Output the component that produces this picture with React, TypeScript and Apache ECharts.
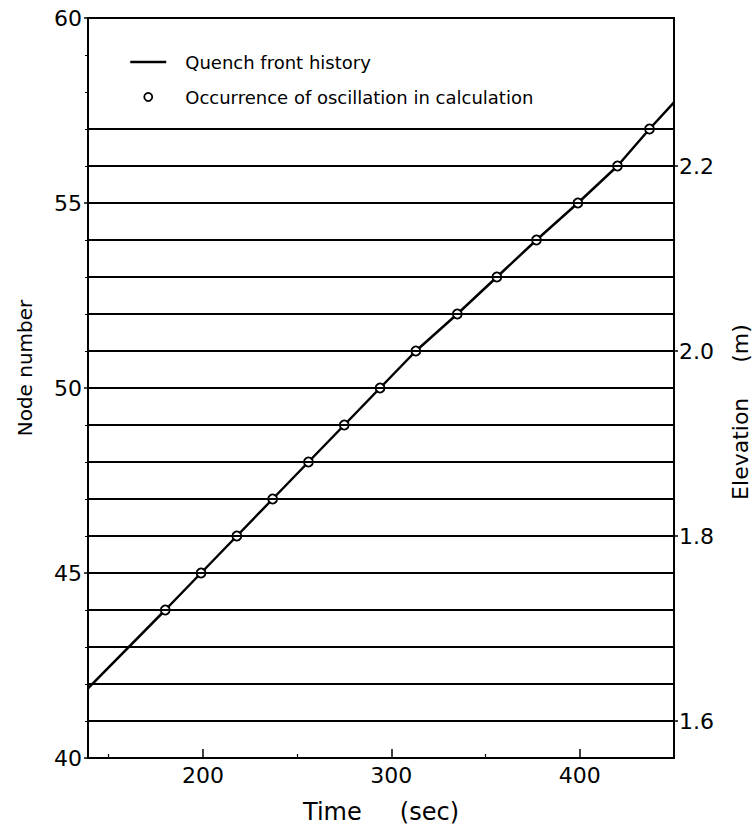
import React, { useEffect, useRef } from "react";
import * as echarts from "echarts";

// Node levels drawn as horizontal reference lines
const gridNodes = [41, 42, 43, 44, 45, 46, 47, 48, 49, 50, 51, 52, 53, 54, 55, 56, 57];

// Axis ticks and labels
const timeLabels = [200, 300, 400];
const timeMinorTicks = [150, 250, 350];
const elevationTicks = [1.6, 1.8, 2.0, 2.2];

// Quench front history (time in s, node number)
const frontTime = [139, 180, 199, 218, 237, 256, 275, 294, 313, 335, 356, 377, 399, 420, 437, 450];
const frontNode = [41.88, 44, 45, 46, 47, 48, 49, 50, 51, 52, 53, 54, 55, 56, 57, 57.72];

// Nodes where the calculation oscillated
const oscTime = [180, 199, 218, 237, 256, 275, 294, 313, 335, 356, 377, 399, 420, 437];
const oscNode = [44, 45, 46, 47, 48, 49, 50, 51, 52, 53, 54, 55, 56, 57];

const FONT = "DejaVu Sans";
const INK = "#000";

export default function App() {
  const ref = useRef<HTMLDivElement>(null);

  useEffect(() => {
    if (!ref.current) return;
    const chart = echarts.init(ref.current, undefined, { renderer: "svg" });

    const frontData = frontTime.map((t, i) => [t, frontNode[i]]);
    const oscData = oscTime.map((t, i) => [t, oscNode[i]]);

    chart.setOption({
      animation: false,
      backgroundColor: "#fff",
      textStyle: { fontFamily: FONT, color: INK },
      grid: {
        left: 88,
        right: 78,
        top: 18,
        bottom: 68,
        show: true,
        borderColor: INK,
        borderWidth: 2,
        outerBoundsMode: "none",
      },
      legend: {
        orient: "vertical",
        left: 124,
        top: 47,
        itemWidth: 36,
        itemHeight: 8,
        itemGap: 15,
        selectedMode: false,
        data: [
          {
            name: "Quench front history",
            itemStyle: { opacity: 0 },
            lineStyle: { color: INK, width: 2.5, opacity: 1 },
          },
          {
            name: "Occurrence of oscillation in calculation",
            icon: "circle",
            itemStyle: { color: "#fff", borderColor: INK, borderWidth: 1.8 },
          },
        ],
        textStyle: {
          fontFamily: FONT,
          fontSize: 18,
          color: INK,
          lineHeight: 20,
          padding: [0, 0, 0, 14],
        },
      },
      xAxis: [
        {
          type: "value",
          min: 139,
          max: 450,
          position: "bottom",
          axisLine: { show: true, lineStyle: { color: INK, width: 2 } },
          axisTick: {
            show: true,
            inside: true,
            length: 9,
            customValues: timeLabels,
            lineStyle: { color: INK, width: 1.5 },
          },
          axisLabel: {
            customValues: timeLabels,
            fontSize: 22,
            color: INK,
            fontFamily: FONT,
            margin: 6,
          },
          splitLine: { show: false },
        },
        {
          type: "value",
          min: 139,
          max: 450,
          position: "bottom",
          axisLine: { show: false },
          axisTick: {
            show: true,
            inside: true,
            length: 4,
            customValues: timeMinorTicks,
            lineStyle: { color: INK, width: 1.2 },
          },
          axisLabel: { show: false },
          splitLine: { show: false },
        },
      ],
      yAxis: [
        {
          type: "value",
          min: 40,
          max: 60,
          interval: 5,
          position: "left",
          axisLine: { show: true, lineStyle: { color: INK, width: 2 } },
          axisTick: { show: true, length: 4, lineStyle: { color: INK, width: 1.5 } },
          minorTick: { show: true, splitNumber: 5, length: 3, lineStyle: { color: INK, width: 1 } },
          axisLabel: { fontSize: 22, color: INK, fontFamily: FONT, margin: 6 },
          splitLine: { show: false },
          minorSplitLine: { show: false },
        },
        {
          type: "value",
          min: 1.56,
          max: 2.36,
          position: "right",
          axisLine: { show: true, lineStyle: { color: INK, width: 2 } },
          axisTick: {
            show: true,
            length: 4,
            customValues: elevationTicks,
            lineStyle: { color: INK, width: 1.5 },
          },
          axisLabel: {
            customValues: elevationTicks,
            formatter: (v: number) => v.toFixed(1),
            fontSize: 22,
            color: INK,
            fontFamily: FONT,
            margin: 5,
          },
          splitLine: { show: false },
        },
      ],
      series: [
        {
          name: "Node levels",
          type: "line",
          xAxisIndex: 0,
          yAxisIndex: 0,
          data: [],
          z: 1,
          silent: true,
          markLine: {
            silent: true,
            symbol: ["none", "none"],
            label: { show: false },
            lineStyle: { color: INK, width: 2, type: "solid" },
            emphasis: { disabled: true },
            data: gridNodes.map((n) => ({ yAxis: n })),
          },
        },
        {
          name: "Quench front history",
          type: "line",
          xAxisIndex: 0,
          yAxisIndex: 0,
          data: frontData,
          symbol: "none",
          z: 3,
          lineStyle: { color: INK, width: 2.5 },
          itemStyle: { color: INK },
        },
        {
          name: "Occurrence of oscillation in calculation",
          type: "scatter",
          xAxisIndex: 0,
          yAxisIndex: 0,
          data: oscData,
          symbol: "circle",
          symbolSize: 9,
          z: 4,
          itemStyle: { color: "#fff", borderColor: INK, borderWidth: 1.8, opacity: 1 },
        },
      ],
      graphic: [
        {
          type: "text",
          x: 25,
          y: 368,
          rotation: Math.PI / 2,
          style: {
            text: "Node number",
            fontFamily: FONT,
            fontSize: 20,
            fill: INK,
            align: "center",
            verticalAlign: "middle",
          },
        },
        {
          type: "text",
          x: 740,
          y: 412,
          rotation: Math.PI / 2,
          style: {
            text: "Elevation     (m)",
            fontFamily: FONT,
            fontSize: 22,
            fill: INK,
            align: "center",
            verticalAlign: "middle",
          },
        },
        {
          type: "text",
          x: 381,
          y: 812,
          style: {
            text: "Time     (sec)",
            fontFamily: FONT,
            fontSize: 24,
            fill: INK,
            align: "center",
            verticalAlign: "middle",
          },
        },
      ],
    });

    return () => chart.dispose();
  }, []);

  return (
    <div
      ref={ref}
      style={{ position: "fixed", left: 0, top: 0, width: 752, height: 826, background: "#fff" }}
    />
  );
}
